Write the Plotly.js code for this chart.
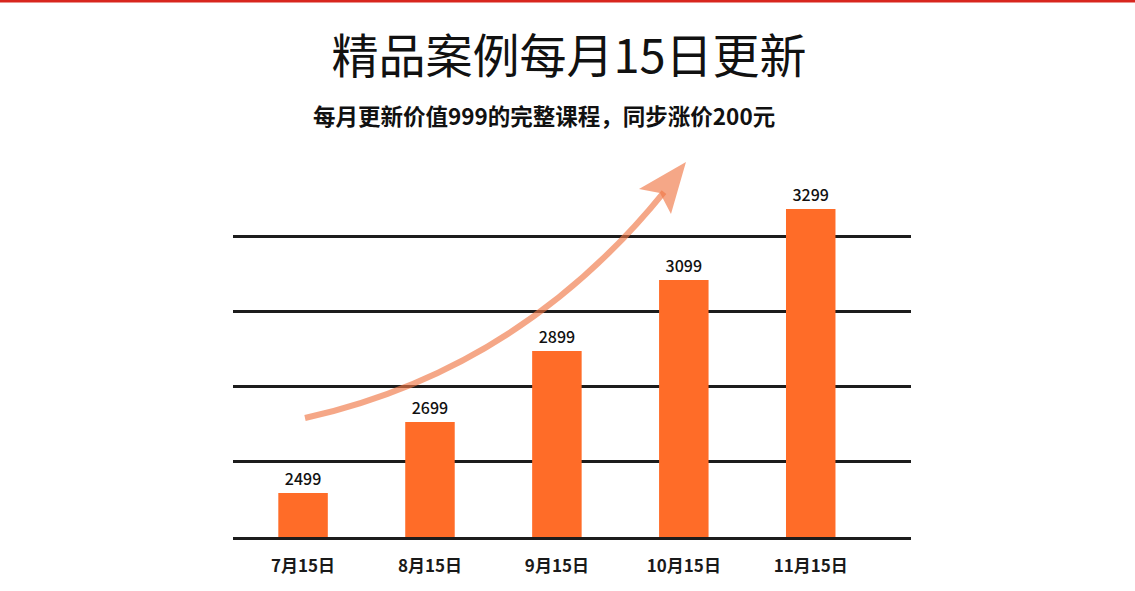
<!DOCTYPE html>
<html>
<head>
<meta charset="utf-8">
<script src="https://cdn.plot.ly/plotly-3.0.1.min.js"></script>
<style>html,body{margin:0;padding:0;background:#fff;}</style>
</head>
<body>
<div id="chart" style="width:1135px;height:591px;"></div>
<script>
// ---- data ----
const categories = ["7月15日", "8月15日", "9月15日", "10月15日", "11月15日"];
const prices = [2499, 2699, 2899, 3099, 3299];
const titleText = "精品案例每月15日更新";
const subtitleText = "每月更新价值999的完整课程，同步涨价200元";

// ---- layout geometry (pixels) ----
const W = 1135, H = 591;
const L = 233, R = 911, T = 200, B = 537;
const px = x => (x - L) / (R - L);
const py = y => (B - y) / (B - T);
const P = (x, y) => px(x).toFixed(4) + "," + py(y).toFixed(4);

const arrowPath = "M" + P(305, 418) + " Q" + P(520, 370) + " " + P(664, 192);
const headPath = "M" + P(686, 162) + " L" + P(639, 189) + " L" + P(660, 193) +
                 " L" + P(671, 214) + " Z";

const trace = {
  type: "bar",
  x: categories,
  y: prices,
  width: 0.39,
  marker: { color: "#ff6c28", line: { width: 0 } },
  text: prices.map(String),
  textposition: "outside",
  cliponaxis: false,
  textfont: { family: "Noto Sans CJK SC, sans-serif", size: 16, color: "#111", weight: 500 },
  hoverinfo: "skip"
};

const layout = {
  width: W, height: H,
  margin: { l: L, r: W - R, t: T, b: H - B, pad: 0 },
  paper_bgcolor: "#ffffff",
  plot_bgcolor: "#ffffff",
  showlegend: false,
  font: { family: "Noto Sans CJK SC, sans-serif" },
  title: {
    text: titleText,
    xref: "container", x: 569 / W, xanchor: "center",
    yref: "container", y: 1 - 57 / H, yanchor: "middle",
    font: { family: "Noto Sans CJK SC, sans-serif", size: 47, color: "#111" }
  },
  xaxis: {
    type: "category",
    range: [-0.552, 4.79],
    showgrid: false, zeroline: false,
    showline: true, linecolor: "#1c1c1c", linewidth: 3,
    ticks: "",
    ticklabelstandoff: 12,
    tickfont: { family: "Noto Sans CJK SC, sans-serif", size: 17, color: "#1a1a1a", weight: "bold" }
  },
  yaxis: {
    range: [2375, 3324],
    tick0: 2375, dtick: 211.3,
    showgrid: true, gridcolor: "#1c1c1c", gridwidth: 3,
    zeroline: false, showticklabels: false, showline: false, ticks: ""
  },
  annotations: [{
    text: subtitleText,
    xref: "paper", yref: "paper",
    x: px(544), y: py(115), xanchor: "center", yanchor: "middle",
    showarrow: false,
    font: { family: "Noto Sans CJK SC, sans-serif", size: 22.5, color: "#111", weight: "bold" }
  }],
  shapes: [
    { type: "line", xref: "paper", yref: "paper",
      x0: px(0), x1: px(W), y0: py(1), y1: py(1),
      line: { color: "#d8261e", width: 3 } },
    { type: "path", xref: "paper", yref: "paper", path: arrowPath, layer: "above",
      line: { color: "rgba(240,120,70,0.65)", width: 6 } },
    { type: "path", xref: "paper", yref: "paper", path: headPath, layer: "above",
      fillcolor: "rgba(240,120,70,0.65)", line: { width: 0 } }
  ]
};

Plotly.newPlot("chart", [trace], layout, { displayModeBar: false, staticPlot: true });
</script>
</body>
</html>
